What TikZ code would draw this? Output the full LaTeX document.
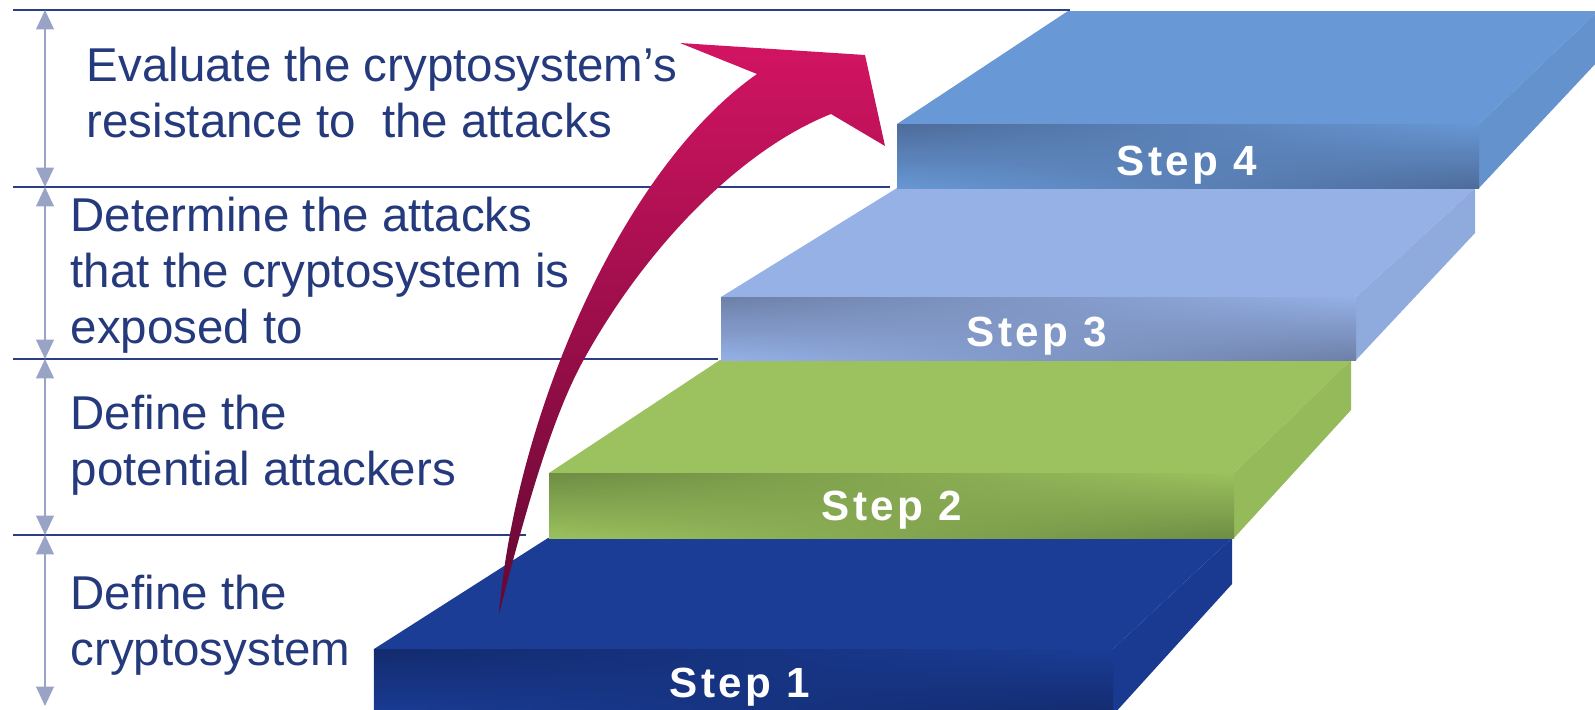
\documentclass[tikz,border=0pt]{standalone}
\usepackage{fontspec}
\setmainfont{Liberation Sans}
\usetikzlibrary{arrows.meta,fadings}

\definecolor{txtblue}{RGB}{36,58,125}
\definecolor{ruleblue}{RGB}{43,63,134}
\definecolor{spangray}{RGB}{152,163,197}
\definecolor{baseA}{RGB}{27,61,150}
\definecolor{darkA}{RGB}{19,43,110}
\definecolor{baseB}{RGB}{155,194,94}
\definecolor{darkB}{RGB}{111,141,68}
\definecolor{baseC}{RGB}{149,177,230}
\definecolor{darkC}{RGB}{110,128,168}
\definecolor{baseD}{RGB}{104,152,213}
\definecolor{darkD}{RGB}{78,108,155}
\definecolor{arrtop}{RGB}{210,20,98}
\definecolor{arrmid}{RGB}{185,18,88}
\definecolor{arrbot}{RGB}{100,8,50}

\tikzfading[name=fade right, left color=transparent!0, right color=transparent!100]

\tikzset{
  rule/.style={draw=ruleblue, line width=0.6pt},
  span/.style={draw=spangray, line width=0.6pt,
    {Triangle[width=5pt,length=5.5pt]}-{Triangle[width=5pt,length=5.5pt]}},
  steplabel/.style={text=white, anchor=base, inner sep=0pt,
    font=\fontsize{12}{14}\selectfont\bfseries\addfontfeature{LetterSpace=8}},
  leftlabel/.style={text=txtblue, align=left, anchor=base west, inner sep=0pt,
    font=\fontsize{13.5}{15.9}\selectfont},
}

\begin{document}
\begin{tikzpicture}[x=0.01cm,y=-0.01cm]
\useasboundingbox (0,0) rectangle (1595,709);

% rules between the phases
\foreach \y/\xe in {10/1070, 187/890, 359/718, 535/526}{
    \draw[rule] (13,\y) -- (\xe,\y);
}

% span arrows on the left
\coordinate (m0) at (45,10);
\coordinate (m1) at (45,187);
\coordinate (m2) at (45,359);
\coordinate (m3) at (45,535);
\coordinate (m4) at (45,706);
\foreach \a/\b in {m0/m1, m1/m2, m2/m3, m3/m4}{
    \draw[span] (\a) -- (\b);
}

% (anchored at the baseline of the last line)
\node[leftlabel] (phase4) at (86,137) {Evaluate the cryptosystem’s\\resistance to\ \ the attacks};
\node[leftlabel] (phase3) at (70,343) {Determine the attacks\\that the cryptosystem is\\exposed to};
\node[leftlabel] (phase2) at (70,485) {Define the\\potential attackers};
\node[leftlabel] (phase1) at (70,665) {Define the\\cryptosystem};

% the four slabs: front-left, back-left, right x's, bottoms
\foreach \flx/\fly/\blx/\bly/\frx/\brx/\fby/\sby/\base/\dark/\n/\lx/\ly in {
    374/649/548/538/1113/1232/715/584/baseA/darkA/1/740/697,
    549/473/720/360/1234/1351/538/410/baseB/darkB/2/892/520,
    721/297/897/188/1356/1475/360/233/baseC/darkC/3/1037/346,
    897/124/1068/11/1479/1598/188/61/baseD/darkD/4/1187/175}{
    \fill[\base] (\flx,\fly) -- (\blx,\bly) -- (\brx,\bly) -- (\frx,\fly) -- cycle;
    \fill[\base] (\frx,\fly) -- (\brx,\bly) -- (\brx,\sby) -- (\frx,\fby) -- cycle;
    \fill[black,opacity=0.04] (\frx,\fly) -- (\brx,\bly) -- (\brx,\sby) -- (\frx,\fby) -- cycle;
    \shade[top color=\base, bottom color=\dark] (\flx,\fly) rectangle (\frx,\fby);
    \shade[top color=\dark, bottom color=\base, path fading=fade right]
        (\flx,\fly) rectangle (\frx,\fby);
    \node[steplabel] (step\n) at (\lx,\ly) {Step \n};
}

% the rising arrow
\shade[top color=arrtop, middle color=arrmid, bottom color=arrbot]
    (499,614) .. controls (515,420) and (620,170) .. (757,74)
    -- (680,43) -- (865,55) -- (885,146) -- (831,114)
    .. controls (740,150) and (645,248) .. (583,361)
    .. controls (550,421) and (522,524) .. (499,614) -- cycle;
\end{tikzpicture}
\end{document}
